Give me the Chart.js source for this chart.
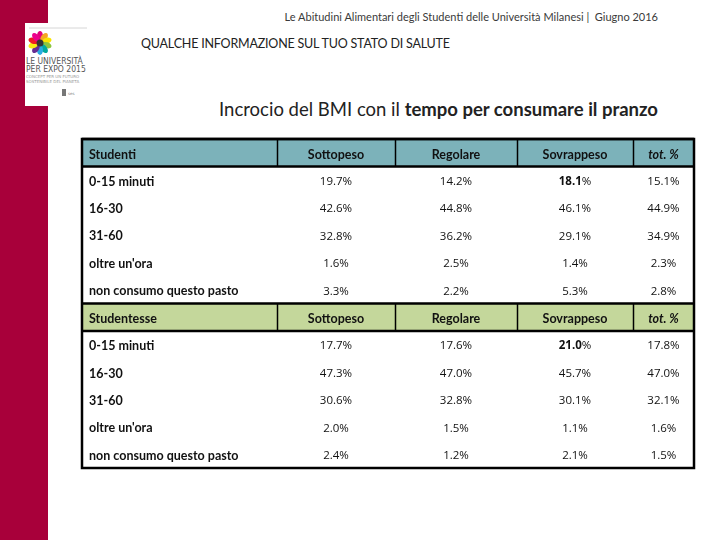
<!DOCTYPE html>
<html lang="it">
<head>
<meta charset="UTF-8">
<title>Incrocio del BMI con il tempo per consumare il pranzo</title>
<script src="https://cdn.jsdelivr.net/npm/chart.js@4.4.1/dist/chart.umd.min.js"></script>
<style>
    body { margin: 0; background: #fff; }
    .page { position: relative; width: 720px; height: 540px; overflow: hidden; font-family: Lato, "Open Sans", sans-serif; }
    .band { position: absolute; left: 0; top: 0; width: 48px; height: 540px; background: #a8003a; }
    .logo { position: absolute; left: 25px; top: 23px; width: 65px; height: 83px; background: #fff; }
    .top-line { position: absolute; right: 62px; top: 10px; font-size: 11px; color: #3a3a3a; white-space: nowrap; }
    .section { position: absolute; left: 141px; top: 36px; font-size: 12.5px; color: #222; white-space: nowrap; letter-spacing: -0.2px; }
    .title { position: absolute; right: 62px; top: 98px; font-size: 18.5px; color: #222; white-space: nowrap; }
    .title b { font-weight: 700; }
    #table { position: absolute; left: 0; top: 0; }
</style>
</head>
<body>
<div class="page">
    <div class="band"></div>
    <div class="logo">
        <svg width="65" height="83" viewBox="0 0 65 83">
            <line x1="4" y1="5" x2="62" y2="5" stroke="#ccc" stroke-width="0.8"/>
            <g transform="translate(15,20)">
                <ellipse cx="0" cy="-7" rx="3" ry="5" fill="#e2007a"/>
                <ellipse cx="0" cy="-7" rx="3" ry="5" fill="#f5a623" transform="rotate(36)"/>
                <ellipse cx="0" cy="-7" rx="3" ry="5" fill="#f9e400" transform="rotate(72)"/>
                <ellipse cx="0" cy="-7" rx="3" ry="5" fill="#8cc63f" transform="rotate(108)"/>
                <ellipse cx="0" cy="-7" rx="3" ry="5" fill="#00a99d" transform="rotate(144)"/>
                <ellipse cx="0" cy="-7" rx="3" ry="5" fill="#29abe2" transform="rotate(180)"/>
                <ellipse cx="0" cy="-7" rx="3" ry="5" fill="#662d91" transform="rotate(216)"/>
                <ellipse cx="0" cy="-7" rx="3" ry="5" fill="#f7ec13" transform="rotate(252)"/>
                <ellipse cx="0" cy="-7" rx="3" ry="5" fill="#ed1c24" transform="rotate(288)"/>
                <ellipse cx="0" cy="-7" rx="3" ry="5" fill="#ec008c" transform="rotate(324)"/>
                <circle cx="0" cy="0" r="3.5" fill="#333"/>
            </g>
            <text x="1" y="41" font-size="8.5" fill="#555" font-family="DejaVu Sans Condensed, sans-serif">LE UNIVERSITÀ</text>
            <text x="1" y="49" font-size="8.5" fill="#555" font-family="DejaVu Sans Condensed, sans-serif">PER EXPO 2015</text>
            <text x="1" y="55" font-size="4" fill="#999" font-family="DejaVu Sans, sans-serif">CONCEPT PER UN FUTURO</text>
            <text x="1" y="60" font-size="4" fill="#999" font-family="DejaVu Sans, sans-serif">SOSTENIBILE DEL PIANETA</text>
            <rect x="37" y="66" width="4" height="7" fill="#777"/>
            <text x="43" y="72" font-size="4" fill="#888" font-family="DejaVu Sans, sans-serif">ses</text>
        </svg>
    </div>
    <div class="top-line">Le Abitudini Alimentari degli Studenti delle Università Milanesi |&nbsp; Giugno 2016</div>
    <div class="section">QUALCHE INFORMAZIONE SUL TUO STATO DI SALUTE</div>
    <div class="title">Incrocio del BMI con il <b>tempo per consumare il pranzo</b></div>
    <canvas id="table" width="720" height="540"></canvas>
</div>

<script>
    // column headers and row labels
    const bmiClasses = ['Sottopeso', 'Regolare', 'Sovrappeso', 'tot. %'];
    const tempi = ['0-15 minuti', '16-30', '31-60', "oltre un'ora", 'non consumo questo pasto'];

    // Studenti (%)
    const studentiSottopeso = [19.7, 42.6, 32.8, 1.6, 3.3];
    const studentiRegolare = [14.2, 44.8, 36.2, 2.5, 2.2];
    const studentiSovrappeso = [18.1, 46.1, 29.1, 1.4, 5.3];
    const studentiTot = [15.1, 44.9, 34.9, 2.3, 2.8];

    // Studentesse (%)
    const studentesseSottopeso = [17.7, 47.3, 30.6, 2.0, 2.4];
    const studentesseRegolare = [17.6, 47.0, 32.8, 1.5, 1.2];
    const studentesseSovrappeso = [21.0, 45.7, 30.1, 1.1, 2.1];
    const studentesseTot = [17.8, 47.0, 32.1, 1.6, 1.5];

    // cells shown in bold: [row, column]
    const studentiBold = [[0, 2]];
    const studentesseBold = [[0, 2]];

    const groups = [
        { title: 'Studenti', color: '#7cb2ba', cols: [studentiSottopeso, studentiRegolare, studentiSovrappeso, studentiTot], bold: studentiBold },
        { title: 'Studentesse', color: '#c4d79b', cols: [studentesseSottopeso, studentesseRegolare, studentesseSovrappeso, studentesseTot], bold: studentesseBold }
    ];

    // relative widths of the label column and the four value columns
    const colWidths = [195, 118, 122, 116, 61];
    const colEdges = colWidths.reduce((acc, w) => acc.concat(acc[acc.length - 1] + w), [0]);

    const rowIds = [];
    groups.forEach((g, gi) => {
        rowIds.push(g.title);
        tempi.forEach(t => rowIds.push(gi + ':' + t));
    });

    const labelFont = 'bold 12.5px Lato, sans-serif';
    const valueFont = '11.5px "Open Sans", sans-serif';
    const valueBold = 'bold 11.5px "Open Sans", sans-serif';

    const tablePlugin = {
        id: 'tablePlugin',
        afterDraw(chart) {
            const ctx = chart.ctx;
            const x = chart.scales.x;
            const y = chart.scales.y;
            const band = (y.bottom - y.top) / rowIds.length;
            const left = x.getPixelForValue(0);
            const right = x.getPixelForValue(colEdges[colEdges.length - 1]);
            const colCenter = c => (x.getPixelForValue(colEdges[c]) + x.getPixelForValue(colEdges[c + 1])) / 2;

            ctx.save();
            ctx.textBaseline = 'middle';
            ctx.fillStyle = '#000';

            groups.forEach((g, gi) => {
                const headIdx = gi * (tempi.length + 1);
                const hc = y.getPixelForValue(headIdx);
                const hTop = hc - band / 2, hBot = hc + band / 2;

                // header background
                ctx.fillStyle = g.color;
                ctx.fillRect(left, hTop, right - left, band);

                // header separators
                ctx.strokeStyle = '#000';
                ctx.lineWidth = 1.5;
                for (let c = 1; c < colEdges.length - 1; c++) {
                    const px = Math.round(x.getPixelForValue(colEdges[c])) + 0.5;
                    ctx.beginPath();
                    ctx.moveTo(px, hTop);
                    ctx.lineTo(px, hBot);
                    ctx.stroke();
                }
                ctx.lineWidth = 2.5;
                [hTop, hBot].forEach(py => {
                    ctx.beginPath();
                    ctx.moveTo(left, py);
                    ctx.lineTo(right, py);
                    ctx.stroke();
                });

                // header text
                ctx.fillStyle = '#111';
                ctx.font = labelFont;
                ctx.textAlign = 'left';
                ctx.fillText(g.title, left + 7, hc + 2);
                ctx.textAlign = 'center';
                bmiClasses.forEach((name, c) => {
                    ctx.font = name.startsWith('tot') ? 'italic bold 12.5px Lato, sans-serif' : labelFont;
                    ctx.fillText(name, colCenter(c + 1), hc + 2);
                });

                // data rows
                tempi.forEach((t, r) => {
                    const cy = y.getPixelForValue(headIdx + 1 + r) + 1.5;
                    ctx.font = labelFont;
                    ctx.textAlign = 'left';
                    ctx.fillText(t, left + 7, cy);
                    g.cols.forEach((vals, c) => {
                        const num = vals[r].toFixed(1);
                        const isBold = g.bold.some(b => b[0] === r && b[1] === c);
                        const cx = colCenter(c + 1);
                        if (isBold) {
                            ctx.font = valueBold;
                            const w1 = ctx.measureText(num).width;
                            ctx.font = valueFont;
                            const w2 = ctx.measureText('%').width;
                            ctx.textAlign = 'left';
                            ctx.font = valueBold;
                            ctx.fillText(num, cx - (w1 + w2) / 2, cy);
                            ctx.font = valueFont;
                            ctx.fillText('%', cx - (w1 + w2) / 2 + w1, cy);
                        } else {
                            ctx.font = valueFont;
                            ctx.textAlign = 'center';
                            ctx.fillText(num + '%', cx, cy);
                        }
                    });
                });
            });

            // outer frame
            ctx.strokeStyle = '#000';
            ctx.lineWidth = 2.5;
            ctx.strokeRect(left, y.top, right - left, y.bottom - y.top);
            ctx.restore();
        }
    };

    new Chart(document.getElementById('table'), {
        type: 'scatter',
        data: { labels: rowIds, datasets: [{ data: [] }] },
        options: {
            responsive: false,
            animation: false,
            layout: { padding: { left: 82, top: 139, right: 26, bottom: 72 } },
            plugins: { legend: { display: false }, tooltip: { enabled: false } },
            scales: {
                x: { type: 'linear', min: 0, max: colEdges[colEdges.length - 1], display: false },
                y: { type: 'category', labels: rowIds, offset: true, display: false }
            }
        },
        plugins: [tablePlugin]
    });
</script>
</body>
</html>
